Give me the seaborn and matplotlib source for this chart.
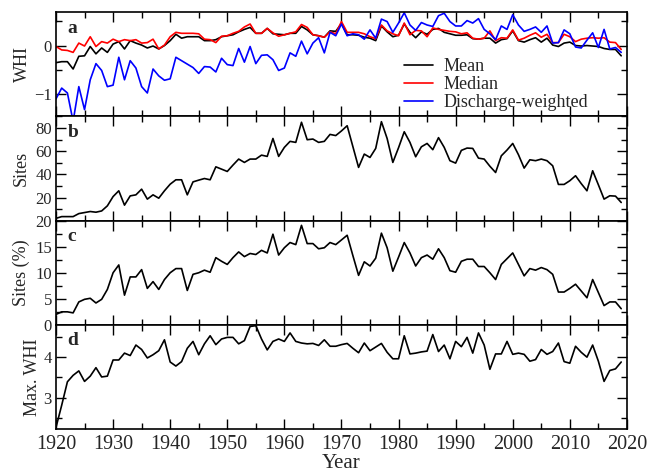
import numpy as np
import pandas as pd
import matplotlib
matplotlib.use("Agg")
import matplotlib.pyplot as plt
from matplotlib.ticker import MultipleLocator, FixedLocator
import seaborn as sns

years = list(range(1920, 2020))

whi_mean = [-0.35, -0.33, -0.33, -0.48, -0.22, -0.21, -0.02, -0.17, -0.05, -0.14,
            0.03, 0.08, -0.07, 0.10, 0.05, 0.01, -0.05, -0.01, -0.07, 0.00,
            0.10, 0.23, 0.15, 0.18, 0.18, 0.18, 0.10, 0.10, 0.12, 0.18,
            0.20, 0.22, 0.28, 0.33, 0.37, 0.25, 0.25, 0.35, 0.24, 0.23,
            0.22, 0.25, 0.25, 0.39, 0.32, 0.22, 0.20, 0.17, 0.30, 0.29,
            0.45, 0.22, 0.22, 0.21, 0.17, 0.15, 0.10, 0.40, 0.28, 0.18,
            0.21, 0.44, 0.27, 0.16, 0.28, 0.23, 0.33, 0.35, 0.27, 0.24,
            0.21, 0.21, 0.22, 0.14, 0.13, 0.15, 0.15, 0.05, 0.12, 0.14,
            0.30, 0.10, 0.07, 0.12, 0.16, 0.07, 0.15, 0.01, -0.02, 0.05,
            0.07, 0.00, -0.01, 0.00, -0.01, -0.02, -0.06, -0.08, -0.08, -0.21]

whi_median = [-0.02, -0.09, -0.10, -0.14, 0.05, -0.01, 0.18, -0.02, 0.08, 0.05,
              0.13, 0.08, 0.12, 0.10, 0.12, 0.05, 0.06, 0.13, -0.07, 0.01,
              0.18, 0.27, 0.25, 0.25, 0.25, 0.24, 0.13, 0.12, 0.06, 0.19,
              0.20, 0.25, 0.29, 0.38, 0.44, 0.25, 0.25, 0.35, 0.26, 0.19,
              0.22, 0.25, 0.28, 0.43, 0.37, 0.22, 0.20, 0.17, 0.28, 0.24,
              0.49, 0.27, 0.27, 0.27, 0.24, 0.18, 0.14, 0.42, 0.30, 0.24,
              0.20, 0.46, 0.22, 0.31, 0.30, 0.18, 0.36, 0.33, 0.31, 0.29,
              0.28, 0.24, 0.26, 0.15, 0.13, 0.15, 0.30, 0.10, 0.16, 0.15,
              0.32, 0.11, 0.15, 0.21, 0.26, 0.17, 0.23, 0.06, 0.06, 0.23,
              0.18, 0.08, 0.13, 0.15, 0.16, 0.15, 0.16, 0.07, 0.06, -0.08]

whi_discharge = [-1.09, -0.87, -0.97, -1.55, -0.84, -1.31, -0.70, -0.37, -0.51, -0.84,
                 -0.81, -0.24, -0.70, -0.31, -0.46, -0.84, -0.97, -0.48, -0.62, -0.71,
                 -0.68, -0.24, -0.31, -0.38, -0.45, -0.57, -0.43, -0.44, -0.54, -0.26,
                 -0.39, -0.41, -0.06, -0.34, -0.02, -0.37, -0.20, -0.19, -0.29, -0.51,
                 -0.46, -0.15, -0.22, 0.09, -0.17, 0.05, 0.16, -0.15, 0.27, 0.20,
                 0.44, 0.20, 0.24, 0.22, 0.13, 0.32, 0.15, 0.54, 0.49, 0.27,
                 0.46, 0.67, 0.42, 0.31, 0.47, 0.42, 0.39, 0.61, 0.66, 0.49,
                 0.40, 0.40, 0.51, 0.46, 0.55, 0.33, 0.24, 0.12, 0.40, 0.33,
                 0.63, 0.42, 0.29, 0.33, 0.38, 0.27, 0.40, 0.05, 0.06, 0.32,
                 0.24, -0.03, -0.05, 0.11, 0.26, -0.04, 0.33, -0.07, -0.04, -0.14]

sites = [2, 3.5, 3.5, 3.5, 6.1, 7, 7.9, 7.3, 8.4, 12.8,
         20.8, 25.8, 13.4, 21.4, 22.3, 27.2, 18.6, 22.3, 19.4, 25.8,
         31.5, 35.3, 35.3, 22.3, 33.5, 35, 36.4, 35.3, 46.5, 44.5,
         42.5, 48, 53.2, 50.3, 53.2, 53.2, 56.6, 55.5, 71, 55.5,
         63.3, 68.5, 67.6, 85, 69.9, 70.5, 67.6, 68.5, 74.5, 73.5,
         77.5, 82, 64, 46, 57.5, 54.6, 62.4, 85.5, 71, 50.3,
         63, 76.8, 67.6, 55.2, 63.8, 66.7, 61.3, 71.7, 63.3, 51.8,
         49.7, 60.7, 62.7, 62.4, 54, 53.2, 47, 41.6, 56, 61,
         66.7, 57, 45.4, 52.6, 51.8, 53.2, 51.8, 47.4, 31.3, 31.3,
         34.5, 38.8, 32, 25.8, 43.1, 31, 18.6, 21.5, 21.2, 15.7]

sites_pct = [2.0, 2.5, 2.5, 2.3, 4.4, 4.9, 5.1, 4.2, 4.9, 6.8,
             10.0, 11.5, 5.7, 9.2, 9.2, 10.6, 7.0, 8.3, 6.8, 8.7,
             10.0, 10.8, 10.8, 6.6, 9.7, 10.0, 10.5, 10.1, 12.9, 12.2,
             11.6, 12.9, 14.0, 13.1, 13.7, 13.5, 14.3, 13.8, 17.4, 13.4,
             14.8, 15.8, 15.4, 19.1, 15.6, 15.6, 14.6, 14.8, 15.8, 15.4,
             16.3, 17.2, 13.3, 9.5, 12.1, 11.3, 12.8, 17.6, 14.8, 10.3,
             13.0, 15.8, 13.8, 11.3, 12.9, 13.4, 12.6, 14.6, 12.9, 10.4,
             10.1, 12.2, 12.6, 12.6, 11.2, 11.2, 10.0, 8.7, 11.6, 12.7,
             13.8, 11.6, 9.4, 10.8, 10.5, 11.0, 10.6, 9.7, 6.3, 6.3,
             7.0, 7.8, 6.5, 5.2, 8.7, 6.2, 3.7, 4.4, 4.4, 3.1]

max_whi = [2.26, 2.81, 3.39, 3.55, 3.66, 3.40, 3.53, 3.74, 3.51, 3.53,
           3.93, 3.93, 4.10, 4.04, 4.30, 4.19, 3.98, 4.06, 4.16, 4.43,
           3.88, 3.78, 3.89, 4.22, 4.39, 4.06, 4.33, 4.53, 4.31, 4.45,
           4.49, 4.49, 4.33, 4.41, 4.76, 4.78, 4.45, 4.18, 4.39, 4.45,
           4.39, 4.60, 4.39, 4.35, 4.33, 4.34, 4.29, 4.43, 4.27, 4.27,
           4.31, 4.34, 4.22, 4.11, 4.35, 4.16, 4.25, 4.34, 4.12, 3.96,
           3.96, 4.53, 4.08, 4.10, 4.13, 4.15, 4.56, 4.14, 4.30, 3.96,
           4.39, 4.26, 4.49, 4.10, 4.60, 4.30, 3.70, 4.08, 4.08, 4.39,
           4.07, 4.10, 4.07, 3.90, 3.94, 4.19, 4.07, 4.14, 4.35, 3.89,
           3.85, 4.27, 4.12, 4.00, 4.30, 3.90, 3.40, 3.67, 3.71, 3.88]

series_names = ["Mean", "Median", "Discharge-weighted"]
series_colors = ["#000000", "#ff0000", "#0000ff"]

sns.set_style("ticks")
plt.rcParams['font.family'] = ['Liberation Serif', 'DejaVu Serif']

fig, axes = plt.subplots(4, 1, figsize=(6.51, 4.72), dpi=100, sharex=True)
fig.subplots_adjust(left=0.086, right=0.963, top=0.974, bottom=0.091, hspace=0)

lw = 1.2
df_a = pd.DataFrame({"Year": years * 3,
                     "WHI": whi_mean + whi_median + whi_discharge,
                     "Series": [s for s in series_names for _ in years]})
ax = axes[0]
sns.lineplot(data=df_a, x="Year", y="WHI", hue="Series", hue_order=series_names,
             palette=series_colors, ax=ax, linewidth=lw)
ax.set_ylim(-1.45, 0.68)
ax.yaxis.set_major_locator(FixedLocator([-1, 0]))
ax.yaxis.set_minor_locator(FixedLocator([-0.5, 0.5]))
ax.set_ylabel("WHI", fontsize=13, labelpad=2)
leg = ax.legend(frameon=False, loc="lower right", bbox_to_anchor=(0.955, -0.07),
                fontsize=13, handlelength=1.6, handletextpad=0.6,
                labelspacing=0.05, borderpad=0.2)

ax = axes[1]
sns.lineplot(x=years, y=sites, ax=ax, color="black", linewidth=lw)
ax.set_ylim(0, 90)
ax.yaxis.set_major_locator(FixedLocator([20, 40, 60, 80]))
ax.yaxis.set_minor_locator(FixedLocator([10, 30, 50, 70, 90]))
ax.set_ylabel("Sites", fontsize=13)

ax = axes[2]
sns.lineplot(x=years, y=sites_pct, ax=ax, color="black", linewidth=lw)
ax.set_ylim(0, 20)
ax.yaxis.set_major_locator(MultipleLocator(5))
ax.yaxis.set_minor_locator(FixedLocator([2.5, 7.5, 12.5, 17.5]))
ax.set_ylabel("Sites (%)", fontsize=13)

ax = axes[3]
sns.lineplot(x=years, y=max_whi, ax=ax, color="black", linewidth=lw)
ax.set_ylim(2.22, 4.8)
ax.yaxis.set_major_locator(FixedLocator([3, 4]))
ax.yaxis.set_minor_locator(FixedLocator([2.5, 3.5, 4.5]))
ax.set_ylabel("Max. WHI", fontsize=13, labelpad=2)
ax.set_xlabel("Year", fontsize=15, labelpad=0)

letters = ["a", "b", "c", "d"]
for a_, letter in zip(axes, letters):
    a_.set_xlim(1920, 2020)
    a_.xaxis.set_major_locator(MultipleLocator(10))
    a_.xaxis.set_minor_locator(MultipleLocator(5))
    a_.tick_params(which="both", direction="in", top=True, right=True,
                   width=1.0, color="black")
    a_.tick_params(which="major", length=7)
    a_.tick_params(which="minor", length=4)
    a_.tick_params(axis="y", labelsize=12, pad=3)
    a_.tick_params(axis="x", labelsize=14.5, pad=4)
    for sp in a_.spines.values():
        sp.set_linewidth(1.2)
        sp.set_color("black")
    a_.text(0.02, 0.93, letter, transform=a_.transAxes, fontsize=14,
            fontweight="bold", va="top", ha="left")

fig.savefig("out.png", dpi=100)
